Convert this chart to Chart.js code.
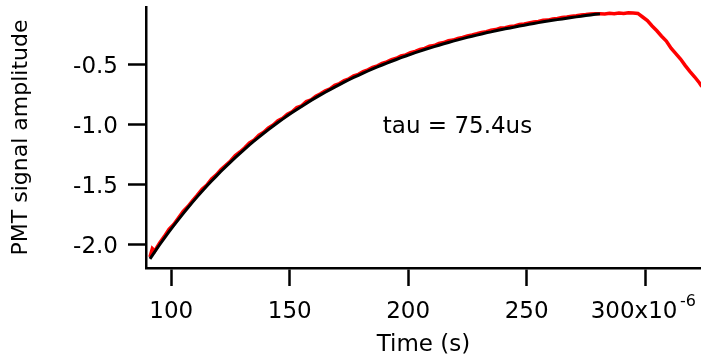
<!DOCTYPE html>
<html>
<head>
<meta charset="utf-8">
<script src="https://cdn.jsdelivr.net/npm/chart.js@4.4.1/dist/chart.umd.min.js"></script>
<style>
    html, body { margin: 0; padding: 0; background: #ffffff; }
    #wrap { width: 701px; height: 360px; }
</style>
</head>
<body>
<div id="wrap"><canvas id="pmtChart" width="701" height="360"></canvas></div>
<script>
// Measured PMT trace (time in microseconds)
const timeUs = [
    91, 92, 93, 95, 97, 99, 101, 103, 105, 107, 109, 111, 113, 115, 117, 119,
    121, 123, 125, 127, 129, 131, 133, 135, 137, 139, 141, 143, 145, 147, 149,
    151, 153, 155, 157, 159, 161, 163, 165, 167, 169, 171, 173, 175, 177, 179,
    181, 183, 185, 187, 189, 191, 193, 195, 197, 199, 201, 203, 205, 207, 209,
    211, 213, 215, 217, 219, 221, 223, 225, 227, 229, 231, 233, 235, 237, 239,
    241, 243, 245, 247, 249, 251, 253, 255, 257, 259, 261, 263, 265, 267, 269,
    271, 273, 275, 277, 279, 281, 283, 285, 287, 289, 291, 293, 295, 297, 299,
    301, 303, 305, 307, 309, 311, 313, 315, 317, 319, 321, 323, 324
];
const signal = [
    -2.10, -2.03, -2.05, -1.985, -1.93, -1.87, -1.83, -1.775, -1.72, -1.68, -1.63, -1.585, -1.535, -1.50, -1.45, -1.415,
    -1.37, -1.335, -1.30, -1.255, -1.225, -1.19, -1.15, -1.125, -1.085, -1.06, -1.025, -1.00, -0.965, -0.945, -0.91,
    -0.89, -0.855, -0.84, -0.805, -0.79, -0.76, -0.74, -0.715, -0.70, -0.67, -0.655, -0.63, -0.615, -0.59, -0.578,
    -0.555, -0.54, -0.52, -0.507, -0.486, -0.474, -0.455, -0.444, -0.425, -0.416, -0.398, -0.386, -0.37, -0.362, -0.344,
    -0.338, -0.32, -0.313, -0.297, -0.292, -0.278, -0.27, -0.257, -0.25, -0.24, -0.228, -0.222, -0.21, -0.205, -0.192,
    -0.19, -0.178, -0.174, -0.162, -0.158, -0.15, -0.142, -0.138, -0.128, -0.126, -0.116, -0.112, -0.105, -0.10, -0.094,
    -0.09, -0.083, -0.08, -0.074, -0.072, -0.072, -0.075, -0.068, -0.072, -0.066, -0.07, -0.064, -0.066, -0.07, -0.10,
    -0.13, -0.175, -0.215, -0.26, -0.30, -0.36, -0.405, -0.45, -0.505, -0.555, -0.60, -0.65, -0.68
];

// Exponential fit
const fitTimeUs = [
    91, 93, 95, 97, 99, 101, 103, 105, 107, 109, 111, 113, 115, 117, 119,
    121, 123, 125, 127, 129, 131, 133, 135, 137, 139, 141, 143, 145, 147, 149,
    151, 153, 155, 157, 159, 161, 163, 165, 167, 169, 171, 173, 175, 177, 179,
    181, 183, 185, 187, 189, 191, 193, 195, 197, 199, 201, 203, 205, 207, 209,
    211, 213, 215, 217, 219, 221, 223, 225, 227, 229, 231, 233, 235, 237, 239,
    241, 243, 245, 247, 249, 251, 253, 255, 257, 259, 261, 263, 265, 267, 269,
    271, 273, 275, 277, 279, 281
];
const fitSignal = [
    -2.115, -2.057, -2.000, -1.945, -1.891, -1.839, -1.788, -1.738, -1.690, -1.643, -1.597, -1.553, -1.509, -1.467, -1.426,
    -1.386, -1.347, -1.309, -1.272, -1.236, -1.201, -1.166, -1.133, -1.101, -1.069, -1.038, -1.008, -0.979, -0.951, -0.923,
    -0.896, -0.870, -0.845, -0.820, -0.795, -0.772, -0.749, -0.727, -0.705, -0.684, -0.663, -0.643, -0.623, -0.604, -0.586,
    -0.568, -0.550, -0.533, -0.516, -0.500, -0.484, -0.469, -0.454, -0.439, -0.425, -0.411, -0.397, -0.384, -0.371, -0.359,
    -0.347, -0.335, -0.323, -0.312, -0.301, -0.291, -0.280, -0.270, -0.260, -0.251, -0.242, -0.232, -0.224, -0.215, -0.207,
    -0.198, -0.191, -0.183, -0.175, -0.168, -0.161, -0.154, -0.147, -0.140, -0.134, -0.128, -0.122, -0.116, -0.110, -0.104,
    -0.099, -0.094, -0.088, -0.083, -0.078, -0.074
];

const xTicks = [100, 150, 200, 250, 300];
const yTicks = [-2.0, -1.5, -1.0, -0.5];
const tauLabel = 'tau = 75.4us';

const FONT = "'DejaVu Sans', sans-serif";

// buang padding otomatis label agar area plot tetap pada posisinya
function noAutoPadding(scale) {
    scale.paddingTop = 0;
    scale.paddingBottom = 0;
    scale.paddingLeft = 0;
    scale.paddingRight = 0;
}

// teks anotasi tau + pangkat "-6" pada label sumbu x terakhir
const annotatePlugin = {
    id: 'annotate',
    afterDraw(chart) {
        const ctx = chart.ctx;
        const xs = chart.scales.x;
        const ys = chart.scales.y;
        ctx.save();
        ctx.fillStyle = '#000000';
        ctx.textBaseline = 'alphabetic';
        ctx.textAlign = 'left';

        ctx.font = '23px ' + FONT;
        ctx.fillText(tauLabel, xs.getPixelForValue(189.3), ys.getPixelForValue(-1.067));

        ctx.font = '16px ' + FONT;
        ctx.fillText('-6', xs.getPixelForValue(300) + 35, xs.top + 38);
        ctx.restore();
    }
};

const ctx = document.getElementById('pmtChart');

new Chart(ctx, {
    type: 'line',
    data: {
        datasets: [
            {
                label: 'fit',
                data: fitTimeUs.map((t, i) => ({ x: t, y: fitSignal[i] })),
                borderColor: '#000000',
                borderWidth: 3,
                pointRadius: 0,
                tension: 0
            },
            {
                label: 'PMT',
                data: timeUs.map((t, i) => ({ x: t, y: signal[i] })),
                borderColor: '#ff0000',
                borderWidth: 3.5,
                pointRadius: 0,
                tension: 0
            }
        ]
    },
    options: {
        responsive: false,
        animation: false,
        layout: { padding: { top: 7, right: 0, left: 0, bottom: 0 } },
        plugins: {
            legend: { display: false },
            tooltip: { enabled: false }
        },
        scales: {
            x: {
                type: 'linear',
                min: 89.32,
                max: 323.64,
                afterFit: (scale) => { scale.height = 92; noAutoPadding(scale); },
                afterBuildTicks: (scale) => { scale.ticks = xTicks.map(v => ({ value: v })); },
                border: { display: true, color: '#000000', width: 2.5 },
                grid: {
                    drawOnChartArea: false,
                    drawTicks: true,
                    tickLength: 18,
                    tickWidth: 2.5,
                    tickColor: '#000000',
                    color: '#000000'
                },
                ticks: {
                    color: '#000000',
                    padding: 12,
                    maxRotation: 0,
                    font: { family: FONT, size: 23 },
                    callback: (v) => v === 300 ? '300x10   ' : String(v)
                },
                title: {
                    display: true,
                    text: 'Time (s)',
                    color: '#000000',
                    padding: { top: 0, bottom: 1 },
                    font: { family: FONT, size: 23 }
                }
            },
            y: {
                type: 'linear',
                min: -2.1917,
                max: -0.0167,
                afterFit: (scale) => { scale.width = 146; noAutoPadding(scale); },
                afterBuildTicks: (scale) => { scale.ticks = yTicks.map(v => ({ value: v })); },
                border: { display: true, color: '#000000', width: 2.5 },
                grid: {
                    drawOnChartArea: false,
                    drawTicks: true,
                    tickLength: 18,
                    tickWidth: 2.5,
                    tickColor: '#000000',
                    color: '#000000'
                },
                ticks: {
                    color: '#000000',
                    padding: 10,
                    labelOffset: 2,
                    font: { family: FONT, size: 23 },
                    callback: (v) => v.toFixed(1)
                },
                title: {
                    display: true,
                    text: 'PMT signal amplitude',
                    color: '#000000',
                    padding: { top: 8, bottom: 0 },
                    font: { family: FONT, size: 22 }
                }
            }
        }
    },
    plugins: [annotatePlugin]
});
</script>
</body>
</html>
